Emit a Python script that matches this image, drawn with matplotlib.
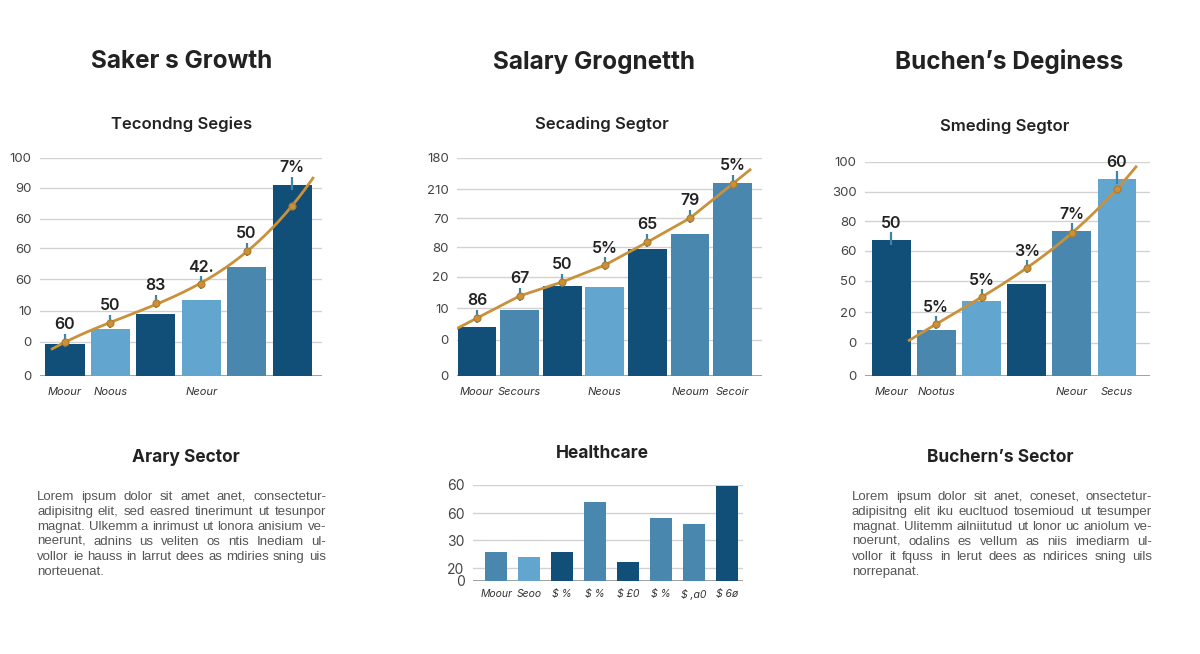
import numpy as np
import matplotlib
matplotlib.use("Agg")
import matplotlib.pyplot as plt

plt.rcParams['font.family'] = ['Inter', 'DejaVu Sans']

W, H = 1200, 654

DARK = "#114e78"
MED = "#4a87af"
LIGHT = "#62a5cf"
LINE = "#c9913a"
TICK = "#3b86a2"

# ---- data -------------------------------------------------------------
titles = ["Saker s Growth", "Salary Grognetth", "Buchen\u2019s Deginess"]
subtitles = ["Tecondng Segies", "Secading Segtor", "Smeding Segtor"]

p1_bars = [1.03, 1.51, 1.99, 2.44, 3.50, 6.13]
p1_trend = [1.09, 1.70, 2.34, 2.95, 4.01, 5.46]
p1_labels = ["60", "50", "83", "42.", "50", "7%"]
p1_colors = [DARK, LIGHT, DARK, LIGHT, MED, DARK]
p1_xlabels = ["Moour", "Noous", "", "Neour", "", ""]
p1_yticks = [0, 1.1, 2.1, 3.1, 4.1, 5.05, 6.05, 7.0]
p1_ylabels = ["0", "0", "10", "60", "60", "60", "90", "100"]

p2_bars = [1.57, 2.12, 2.89, 2.86, 4.08, 4.56, 6.20]
p2_trend = [1.86, 2.57, 3.02, 3.56, 4.30, 5.07, 6.17]
p2_labels = ["86", "67", "50", "5%", "65", "79", "5%"]
p2_colors = [DARK, MED, DARK, LIGHT, DARK, MED, MED]
p2_xlabels = ["Moour", "Secours", "", "Neous", "", "Neoum", "Secoir"]
p2_yticks = [0, 1.16, 2.18, 3.18, 4.14, 5.07, 6.0, 7.0]
p2_ylabels = ["0", "0", "10", "20", "80", "70", "210", "180"]

p3_bars = [4.45, 1.50, 2.45, 3.01, 4.74, 6.44]
p3_trend = [np.nan, 1.70, 2.58, 3.53, 4.68, 6.12]
p3_labels = ["50", "5%", "5%", "3%", "7%", "60"]
p3_colors = [DARK, MED, LIGHT, DARK, MED, LIGHT]
p3_xlabels = ["Meour", "Nootus", "", "", "Neour", "Secus"]
p3_yticks = [0, 1.08, 2.09, 3.11, 4.09, 5.07, 6.02, 7.0]
p3_ylabels = ["0", "0", "20", "50", "60", "80", "300", "100"]

hc_bars = [1.04, 0.88, 1.04, 2.86, 0.70, 2.29, 2.06, 3.47]
hc_colors = [MED, LIGHT, DARK, MED, DARK, MED, MED, DARK]
hc_xlabels = ["Moour", "Seoo", "$ %", "$ %", "$ \u00a30", "$ %", "$ ,a0", "$ 6\u00f8"]
hc_yticks = [0, 0.47, 1.49, 2.47, 3.49]
hc_ylabels = ["0", "20", "30", "60", "60"]

left_title = "Arary Sector"
left_text = [
    "Lorem ipsum dolor sit amet anet, consectetur-",
    "adipisitng elit, sed easred tinerimunt ut tesunpor",
    "magnat. Ulkemm a inrimust ut lonora anisium ve-",
    "neerunt, adnins us veliten os ntis Inediam ul-",
    "vollor ie hauss in larrut dees as mdiries sning uis",
    "norteuenat.",
]
right_title = "Buchern\u2019s Sector"
right_text = [
    "Lorem ipsum dolor sit anet, coneset, onsectetur-",
    "adipisitng elit iku eucltuod tosemioud ut tesumper",
    "magnat. Ulitemm ailniitutud ut lonor uc aniolum ve-",
    "noerunt, odalins es vellum as niis imediarm ul-",
    "vollor it fquss in lerut dees as ndirices sning uils",
    "norrepanat.",
]

fig = plt.figure(figsize=(W / 100, H / 100), dpi=100)
fig.patch.set_facecolor("white")


def px_axes(l, t, r, b):
    return fig.add_axes([l / W, 1 - b / H, (r - l) / W, (b - t) / H])


def ftext(x, y, s, **kw):
    return fig.text(x / W, 1 - y / H, s, **kw)


def style_axes(ax, yticks, ylabels, xlim, labelsize=9.5):
    ax.set_xlim(*xlim)
    ax.set_ylim(0, yticks[-1])
    for sp in ax.spines.values():
        sp.set_visible(False)
    ax.set_yticks(yticks)
    ax.set_yticklabels(ylabels)
    ax.tick_params(axis="y", length=0, labelsize=labelsize, labelcolor="#444", pad=6)
    ax.grid(axis="y", color="#d2d2d2", lw=1)
    ax.set_axisbelow(True)
    ax.axhline(0, color="#9a9a9a", lw=1.3, zorder=1)


def growth_panel(box, bars, trend, labels, colors, xlabels, yticks, ylabels,
                 xlim, span, smooth=True, width=0.86):
    ax = px_axes(*box)
    x = np.arange(len(bars))
    style_axes(ax, yticks, ylabels, xlim)
    ax.bar(x, bars, width=width, color=colors, zorder=2)

    tr = np.array(trend, dtype=float)
    ok = ~np.isnan(tr)
    xs, ys = x[ok], tr[ok]
    if smooth:
        coef = np.polyfit(xs, ys, 3)
        xx = np.linspace(span[0], span[1], 200)
        ax.plot(xx, np.polyval(coef, xx), color=LINE, lw=2, zorder=4)
    else:
        k0 = (ys[1] - ys[0]) / (xs[1] - xs[0])
        k1 = (ys[-1] - ys[-2]) / (xs[-1] - xs[-2])
        xx = np.concatenate([[span[0]], xs, [span[1]]])
        yy = np.concatenate([[ys[0] + k0 * (span[0] - xs[0])], ys,
                             [ys[-1] + k1 * (span[1] - xs[-1])]])
        ax.plot(xx, yy, color=LINE, lw=2, zorder=4)
    ax.plot(xs, ys, "o", ms=5, color=LINE, mec="#b07a2a", mew=0.8, zorder=5)

    top = np.fmax(np.array(bars), np.nan_to_num(tr, nan=-1))
    ax.errorbar(x, top + 0.05, yerr=0.22, fmt="none", ecolor=TICK, elinewidth=1.6,
                capsize=0, zorder=3)
    for xi, ti, lab in zip(x, top, labels):
        ax.text(xi, ti + 0.55, lab, ha="center", va="center", fontsize=11.5,
                fontweight="semibold", color="#222")

    ax.set_xticks(x)
    ax.set_xticklabels(xlabels, fontsize=8, style="italic", color="#333")
    ax.tick_params(axis="x", length=0, pad=8)
    return ax


growth_panel((40, 158, 322, 376), p1_bars, p1_trend, p1_labels, p1_colors,
             p1_xlabels, p1_yticks, p1_ylabels, (-0.55, 5.66), (-0.28, 5.46))
growth_panel((457, 158, 762, 376), p2_bars, p2_trend, p2_labels, p2_colors,
             p2_xlabels, p2_yticks, p2_ylabels, (-0.47, 6.69), (-0.45, 6.41),
             smooth=False, width=0.91)
growth_panel((865, 162, 1150, 376), p3_bars, p3_trend, p3_labels, p3_colors,
             p3_xlabels, p3_yticks, p3_ylabels, (-0.58, 5.73), (0.4, 5.42))

for cx, s in zip([182, 594, 1009], titles):
    ftext(cx, 62, s, ha="center", va="center", fontsize=17.5, fontweight="bold",
          color="#222")
for (cx, cy), s in zip([(182, 124), (602, 124), (1005, 126)], subtitles):
    ftext(cx, cy, s, ha="center", va="center", fontsize=12, fontweight="semibold",
          color="#222")

# ---- healthcare mini chart ---------------------------------------------
ax = px_axes(473, 485, 743, 581)
xh = np.arange(len(hc_bars))
style_axes(ax, hc_yticks, hc_ylabels, (-0.7, 7.48), labelsize=10)
ax.bar(xh, hc_bars, width=0.65, color=hc_colors, zorder=2)
ax.set_xticks(xh)
ax.set_xticklabels(hc_xlabels, fontsize=7.5, style="italic", color="#333")
ax.tick_params(axis="x", length=0, pad=6)
ftext(602, 454, "Healthcare", ha="center", va="center", fontsize=12.5,
      fontweight="bold", color="#222")

# ---- text blocks --------------------------------------------------------
renderer = fig.canvas.get_renderer()


def paragraph(lines, x0, x1, y0, step):
    # y0 is the baseline of the first line; lines are justified word by word
    for i, line in enumerate(lines):
        y = y0 + i * step
        words = line.split()
        objs = [ftext(x0, y, w, ha="left", va="baseline", fontsize=9.5,
                      family=["Liberation Sans", "DejaVu Sans"], color="#555")
                for w in words]
        widths = [o.get_window_extent(renderer).width for o in objs]
        if i == len(lines) - 1 or len(words) < 2:
            gap = 3.0
        else:
            gap = (x1 - x0 - sum(widths)) / (len(words) - 1)
        x = x0
        for o, w in zip(objs, widths):
            o.set_x(x / W)
            x += w + gap


ftext(186, 457, left_title, ha="center", va="center", fontsize=12.5,
      fontweight="bold", color="#222")
paragraph(left_text, 37, 326, 500, 15.0)
ftext(1000, 457, right_title, ha="center", va="center", fontsize=12.5,
      fontweight="bold", color="#222")
paragraph(right_text, 852, 1152, 500, 15.0)

fig.savefig("out.png", dpi=100, facecolor="white")
